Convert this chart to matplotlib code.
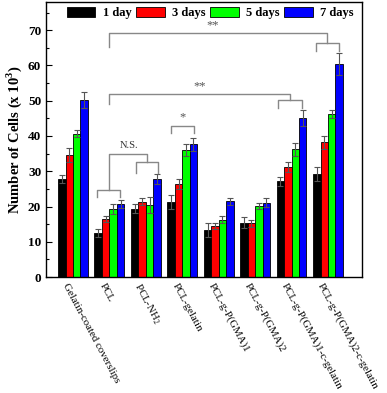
import matplotlib
matplotlib.use("Agg")
import matplotlib.pyplot as plt
import numpy as np

plt.rcParams["font.family"] = ["Liberation Serif", "DejaVu Serif"]
plt.rcParams["mathtext.fontset"] = "custom"
plt.rcParams["mathtext.rm"] = "Liberation Serif"
plt.rcParams["mathtext.bf"] = "Liberation Serif:bold"

groups = [
    "Gelatin-coated coverslips",
    "PCL",
    "PCL-NH$_2$",
    "PCL-gelatin",
    "PCL-g-P(GMA)1",
    "PCL-g-P(GMA)2",
    "PCL-g-P(GMA)1-c-gelatin",
    "PCL-g-P(GMA)2-c-gelatin",
]
days = ["1 day", "3 days", "5 days", "7 days"]
colors = ["#000000", "#ff0000", "#00ff00", "#0000ff"]

day1 = [27.7, 12.5, 19.4, 21.3, 13.3, 15.4, 27.1, 29.2]
day3 = [34.6, 16.4, 21.4, 26.3, 14.5, 15.2, 31.1, 38.2]
day5 = [40.6, 19.2, 20.5, 36.0, 16.3, 20.1, 36.2, 46.2]
day7 = [50.2, 20.7, 27.7, 37.6, 21.5, 21.1, 45.0, 60.4]

err1 = [1.1, 1.2, 1.2, 1.9, 1.9, 1.6, 1.4, 1.9]
err3 = [1.9, 0.8, 1.0, 1.4, 0.9, 0.9, 1.4, 1.9]
err5 = [1.0, 1.4, 2.2, 1.7, 1.1, 0.9, 1.9, 1.1]
err7 = [2.4, 1.1, 1.4, 1.9, 1.0, 1.2, 2.3, 3.0]

values = [day1, day3, day5, day7]
errors = [err1, err3, err5, err7]

fig = plt.figure(figsize=(3.87, 3.93), dpi=100)
ax = fig.add_axes([0.119, 0.295, 0.816, 0.70])

x = np.arange(1, len(groups) + 1)
width = 0.205
offsets = (np.arange(4) - 1.5) * width
for vals, errs, col, off, lab in zip(values, errors, colors, offsets, days):
    ax.bar(x + off, vals, width, color=col, edgecolor="black", linewidth=0.6, label=lab)
    ax.errorbar(x + off, vals, yerr=errs, fmt="none", ecolor="#555555",
                elinewidth=0.8, capsize=2.2, capthick=0.8)

gray = "#888888"


def bracket(ax, x0, x1, y, drop0, drop1):
    ax.plot([x0, x0, x1, x1], [drop0, y, y, drop1], color=gray, lw=1.0)


# significance brackets
bracket(ax, 1.66, 2.29, 24.6, 22.7, 22.7)
bracket(ax, 2.72, 3.33, 32.5, 29.5, 29.5)
bracket(ax, 2.0, 3.02, 35.0, 24.6, 32.5)
ax.text(2.55, 36.0, "N.S.", ha="center", va="bottom", fontsize=7.5, color="#333333")
bracket(ax, 3.69, 4.31, 42.9, 40.9, 40.9)
ax.text(4.0, 43.6, "*", ha="center", va="bottom", fontsize=9, color="#555555")
bracket(ax, 6.64, 7.30, 50.2, 47.8, 47.8)
bracket(ax, 2.0, 6.97, 51.8, 49.0, 50.2)
ax.text(4.47, 52.5, "**", ha="center", va="bottom", fontsize=9, color="#555555")
bracket(ax, 7.67, 8.30, 66.5, 64.2, 64.2)
bracket(ax, 2.0, 7.98, 69.1, 65.3, 66.5)
ax.text(4.84, 69.8, "**", ha="center", va="bottom", fontsize=9, color="#555555")

ax.set_xlim(0.26, 8.93)
ax.set_ylim(0, 78)
ax.set_yticks(np.arange(0, 71, 10))
ax.set_yticks(np.arange(5, 76, 10), minor=True)
ax.tick_params(axis="y", which="major", direction="in", length=4, width=0.8, labelsize=9.5)
ax.tick_params(axis="y", which="minor", direction="in", length=2, width=0.8)
for t in ax.get_yticklabels():
    t.set_fontweight("bold")
ax.set_xticks(x)
ax.set_xticklabels([])
ax.tick_params(axis="x", length=0)
for i, g in enumerate(groups):
    ax.text(x[i] - 0.1, -1.2, g, rotation=-62, ha="left", va="top",
            rotation_mode="anchor", fontsize=7.8)
for s in ax.spines.values():
    s.set_linewidth(1.0)

ax.set_ylabel("Number of Cells (x 10$^\\mathbf{3}$)", fontsize=10.5, fontweight="bold", labelpad=3)

ax.legend(loc="upper center", bbox_to_anchor=(0.52, 1.01), ncol=4, frameon=False,
          prop={"weight": "bold", "size": 9}, handlelength=2.3, handleheight=0.85,
          handletextpad=0.6, columnspacing=0.35, borderaxespad=0.2)

fig.savefig("out.png", dpi=100)
